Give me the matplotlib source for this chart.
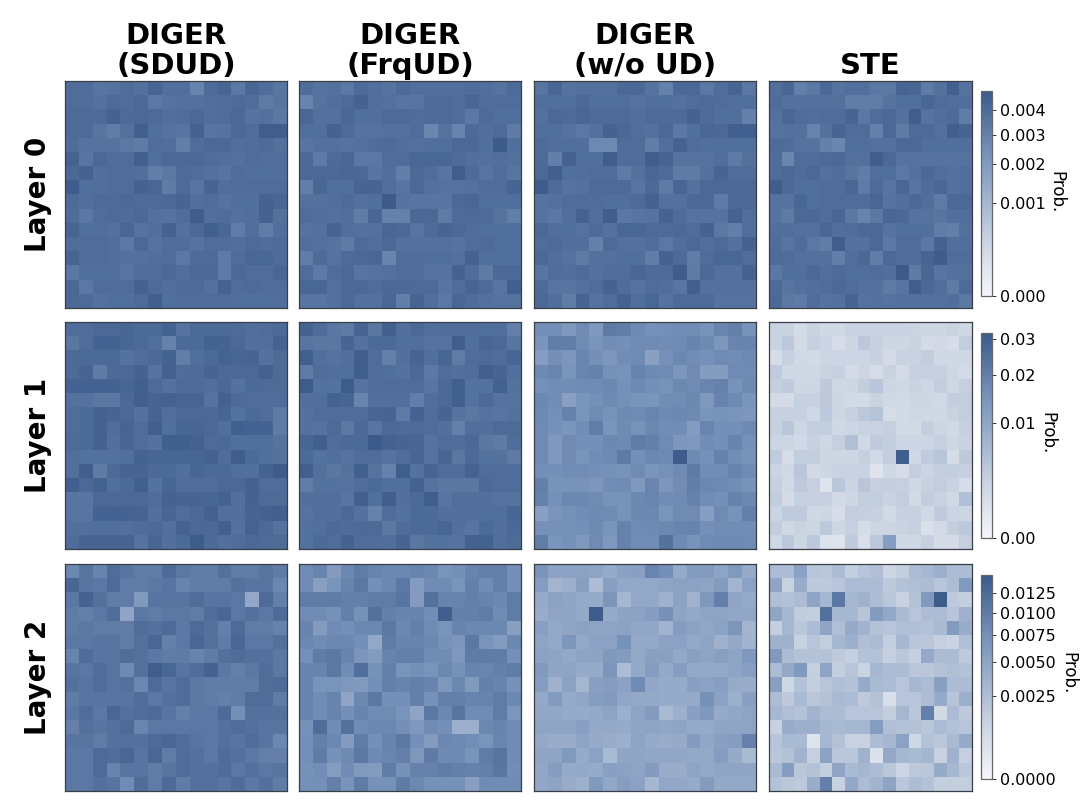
import numpy as np
import matplotlib
matplotlib.use('Agg')
import matplotlib.pyplot as plt
from matplotlib.colors import LinearSegmentedColormap, PowerNorm

# all probabilities below are in units of 1e-4
methods = ['DIGER\n(SDUD)', 'DIGER\n(FrqUD)', 'DIGER\n(w/o UD)', 'STE']
layers = ['Layer 0', 'Layer 1', 'Layer 2']
vmax_layers = [0.00486, 0.0318, 0.0151]
ticks_layers = [[0, 0.001, 0.002, 0.003, 0.004],
                [0, 0.01, 0.02, 0.03],
                [0, 0.0025, 0.005, 0.0075, 0.01, 0.0125]]
ticklabels_layers = [['0.000', '0.001', '0.002', '0.003', '0.004'],
                     ['0.00', '0.01', '0.02', '0.03'],
                     ['0.0000', '0.0025', '0.0050', '0.0075', '0.0100', '0.0125']]

l0_sdud = [
[39,39,35,36,39,37,43,38,38,29,40,43,34,42,39,35],
[39,39,37,40,39,41,34,36,37,37,38,39,40,39,33,35],
[40,40,40,44,40,41,40,38,39,41,38,39,41,36,37,34],
[40,40,35,32,37,45,38,36,35,44,35,36,41,39,46,46],
[39,36,36,36,34,33,39,38,31,39,41,41,38,39,40,37],
[44,35,41,39,39,45,38,41,41,41,39,38,37,39,38,38],
[41,44,38,39,39,38,31,34,40,39,37,35,39,38,38,38],
[47,38,38,39,39,44,42,33,40,35,43,38,39,39,39,39],
[40,38,40,40,41,40,40,41,43,38,39,36,38,38,44,42],
[39,34,39,40,39,41,37,36,39,46,38,39,37,38,44,37],
[43,38,38,37,42,36,38,44,37,41,45,42,32,38,32,38],
[39,39,39,38,34,41,36,39,39,36,39,39,38,40,39,40],
[43,39,39,38,37,37,38,39,34,40,40,33,39,42,42,39],
[34,38,38,38,35,39,39,41,38,41,41,33,41,39,39,42],
[41,34,39,39,39,44,40,38,40,40,37,44,39,40,39,39],
[41,40,37,38,38,40,45,38,39,39,39,39,38,38,38,38]]

l0_frqud = [
[39,36,37,34,40,38,36,40,38,38,38,38,39,38,36,40],
[29,36,38,40,44,38,37,35,35,40,40,39,42,39,39,39],
[42,37,37,42,38,38,40,40,39,40,40,39,34,40,38,38],
[38,38,44,40,36,36,37,37,39,28,36,29,40,38,40,33],
[35,37,37,36,37,39,40,38,37,38,38,41,41,38,48,38],
[41,33,40,42,34,34,39,39,42,42,42,40,38,37,38,37],
[41,41,41,42,41,35,38,31,41,39,35,46,40,35,39,35],
[31,42,38,38,43,43,38,35,41,37,36,36,37,39,39,43],
[37,37,38,40,37,38,48,36,35,35,35,41,42,38,38,38],
[39,38,37,38,32,42,30,30,41,41,33,40,40,40,36,31],
[36,37,43,38,37,37,42,41,35,40,43,41,39,38,38,38],
[38,37,36,33,40,38,41,37,37,37,37,36,39,40,38,38],
[32,40,36,40,41,42,29,39,39,38,38,37,44,38,38,38],
[39,33,39,41,35,36,37,39,39,36,36,44,39,33,41,41],
[42,42,37,41,41,39,41,41,40,40,35,39,43,40,35,45],
[35,35,37,41,37,37,42,31,43,38,34,42,39,37,36,36]]

l0_woud = [
[35,42,36,37,37,37,41,41,36,30,41,41,34,39,43,34],
[38,38,38,41,38,38,38,36,38,38,37,39,40,39,38,38],
[37,41,40,42,40,40,40,38,40,40,40,44,40,38,38,30],
[38,38,36,34,37,44,41,38,37,41,34,38,42,41,45,45],
[40,38,38,38,27,27,39,39,32,38,44,39,38,38,38,38],
[40,31,44,38,38,46,39,39,46,43,36,36,36,38,33,37],
[41,45,38,38,39,39,33,37,42,40,33,33,37,43,39,39],
[47,40,36,37,40,40,40,35,41,33,42,37,41,41,41,41],
[36,37,39,39,39,38,38,40,44,37,37,41,41,33,41,41],
[36,34,38,44,38,46,34,35,36,44,39,36,36,36,44,38],
[41,38,38,36,40,37,42,42,40,40,41,39,44,34,31,38],
[39,40,38,38,30,40,37,37,39,34,38,41,38,40,37,44],
[41,38,36,33,37,37,38,38,32,44,40,32,39,42,42,39],
[35,39,38,40,37,39,39,42,40,40,47,33,41,37,37,44],
[40,35,35,37,39,44,39,36,39,38,35,45,37,37,37,37],
[41,38,32,43,36,39,44,38,42,36,40,40,40,36,36,36]]

l0_ste = [
[38,42,31,34,41,36,38,38,34,34,43,42,33,37,45,36],
[39,37,37,37,37,37,32,32,32,36,38,38,42,39,38,38],
[37,42,39,38,39,39,43,34,39,41,37,46,36,38,40,32],
[36,37,37,29,37,43,39,39,30,41,33,40,40,37,45,43],
[40,39,36,36,30,28,38,38,37,37,41,41,38,38,38,38],
[39,28,39,39,40,41,37,37,46,41,36,36,36,36,36,36],
[39,41,39,41,37,39,35,32,38,38,34,37,41,38,37,38],
[46,41,38,38,39,39,42,33,40,35,42,35,39,42,37,38],
[36,36,42,38,39,39,39,39,42,36,38,41,38,33,41,41],
[36,33,41,41,39,42,34,29,34,42,41,36,36,35,38,38],
[38,38,37,37,42,38,39,41,41,36,38,38,38,32,31,37],
[39,35,39,34,32,46,37,37,41,34,39,39,34,44,38,38],
[40,39,37,37,37,31,38,41,32,41,39,39,43,47,39,39],
[34,38,38,41,38,40,38,38,39,38,48,33,42,35,37,37],
[40,35,37,38,39,41,39,37,37,33,35,46,41,38,33,40],
[41,34,33,39,36,37,43,36,37,36,37,37,37,37,38,34]]

l1_sdud = [
[255,255,270,270,275,265,265,285,235,265,265,265,260,250,255,265],
[225,255,285,285,275,265,250,195,265,265,290,285,270,245,250,285],
[265,265,265,265,240,255,265,285,205,250,265,285,275,280,240,260],
[260,280,215,265,270,285,235,290,255,260,280,265,270,270,290,260],
[285,285,285,285,275,295,260,240,260,260,250,270,240,265,260,260],
[240,240,225,225,270,295,280,290,280,280,235,290,260,255,255,255],
[255,265,285,280,270,240,280,250,270,270,270,275,240,265,255,215],
[255,265,285,255,280,255,295,250,275,275,270,250,295,285,285,215],
[260,265,290,245,275,255,240,300,300,290,260,265,250,250,250,235],
[250,240,240,240,250,285,275,275,275,275,285,255,305,265,250,240],
[245,300,215,265,280,280,265,265,250,275,265,265,250,250,285,310],
[295,270,290,250,265,295,240,275,255,255,255,270,270,285,255,255],
[230,230,270,265,270,270,255,285,280,280,275,285,245,285,260,260],
[230,230,285,285,285,280,245,275,255,270,290,245,245,280,285,295],
[245,245,250,250,245,255,265,245,285,270,270,295,240,285,265,240],
[255,280,280,280,280,235,275,245,265,310,265,245,255,270,260,260]]

l1_frqud = [
[285,255,225,215,280,225,295,245,270,250,255,255,255,250,250,200],
[230,225,225,280,240,265,265,250,250,235,235,305,250,275,270,230],
[295,250,235,245,300,255,200,245,280,250,275,210,255,260,255,275],
[215,255,250,250,300,255,250,240,270,220,255,245,255,295,280,250],
[310,240,240,310,235,255,255,255,255,230,265,295,240,240,290,240],
[245,250,285,275,185,245,245,250,205,250,265,295,240,265,235,235],
[240,255,255,255,255,275,280,215,285,255,280,235,225,235,230,240],
[240,235,260,220,265,230,265,260,260,255,245,200,250,245,260,260],
[275,300,255,265,265,315,285,280,275,235,255,255,270,225,215,255],
[265,240,250,235,255,255,235,255,275,235,275,225,265,240,240,215],
[295,245,225,240,295,235,195,305,240,280,255,255,285,255,255,255],
[210,240,240,235,255,265,250,250,285,235,225,225,225,265,255,255],
[245,245,245,230,295,250,300,245,265,305,230,250,245,245,235,235],
[235,250,245,270,240,195,255,240,265,265,245,245,245,250,250,275],
[240,250,265,255,265,260,220,255,265,265,275,245,230,265,250,270],
[240,265,255,285,255,255,250,280,225,240,240,235,290,290,250,260]]

l1_woud = [
[160,160,135,170,135,215,205,175,155,160,165,165,150,185,200,150],
[145,205,205,170,145,165,160,170,170,165,170,190,175,140,185,190],
[120,160,140,185,160,140,165,170,115,155,180,165,155,170,165,175],
[175,185,145,185,195,155,150,190,175,170,140,170,125,125,170,170],
[155,165,165,170,170,180,155,175,160,150,180,170,185,195,150,175],
[180,165,115,145,160,175,160,145,145,165,165,180,135,190,175,145],
[175,160,195,145,170,150,175,170,185,175,180,175,145,150,145,140],
[170,155,145,165,205,145,170,150,180,165,165,125,185,160,160,175],
[170,135,170,160,160,180,175,210,200,170,140,135,165,160,190,155],
[170,135,170,145,165,175,215,160,180,175,310,175,155,195,165,150],
[160,160,165,165,160,155,150,170,145,155,170,215,165,165,190,170],
[200,150,150,150,140,165,170,135,185,140,165,205,180,175,165,150],
[195,155,180,180,170,150,150,180,185,165,170,195,165,160,195,180],
[115,145,155,165,175,170,150,180,180,145,170,170,120,170,150,200],
[155,155,155,160,175,145,195,170,175,180,185,190,160,165,165,165],
[205,145,155,135,170,135,195,165,165,240,175,150,170,175,175,170]]

l1_ste = [
[24,24,14,25,18,17,24,24,24,24,24,23,20,20,25,18],
[24,36,15,28,22,12,20,37,26,20,20,24,14,15,12,31],
[12,27,18,15,21,21,21,21,26,14,24,24,30,17,17,18],
[32,18,19,19,24,26,14,21,13,24,14,26,26,26,20,14],
[28,32,20,20,34,19,20,30,41,20,18,24,20,31,19,28],
[14,14,27,26,34,20,15,15,24,18,15,20,20,16,30,30],
[26,26,26,17,36,20,26,37,44,13,15,19,17,17,24,30],
[26,38,20,30,30,17,21,24,24,28,15,15,29,20,16,28],
[21,21,16,26,19,28,48,18,33,29,21,21,21,28,20,24],
[32,13,30,30,20,20,20,28,16,30,300,18,32,42,13,34],
[22,18,41,15,20,24,24,24,7,18,13,30,22,30,30,26],
[26,16,34,26,7,38,22,40,28,29,28,18,26,30,24,12],
[30,14,27,28,26,15,20,30,30,24,30,15,30,24,18,48],
[22,33,33,17,20,12,30,28,26,15,26,26,17,32,22,20],
[30,17,24,20,36,20,26,13,21,21,24,26,9,15,30,36],
[18,36,20,36,8,7,32,9,36,120,18,18,26,14,14,28]]

l2_sdud = [
[85,110,90,120,110,100,100,125,105,100,100,115,100,100,110,100],
[130,110,105,125,100,100,105,110,90,100,100,100,115,110,110,85],
[105,135,115,100,100,62,110,110,110,120,110,110,105,45,125,95],
[100,95,105,120,48,105,100,105,105,100,120,130,105,115,105,125],
[100,105,100,100,100,120,115,125,105,125,115,95,125,100,100,92],
[105,105,110,110,100,115,130,95,105,130,115,100,130,105,105,115],
[90,120,110,110,120,115,105,100,100,90,100,115,120,115,115,105],
[110,105,120,110,82,115,145,130,110,120,135,105,95,105,120,105],
[115,110,120,110,115,85,125,110,120,105,100,100,100,100,120,125],
[100,110,110,110,110,120,105,115,120,105,100,95,100,120,120,100],
[105,120,105,130,115,120,125,110,95,105,105,125,75,115,115,115],
[95,115,110,115,125,88,105,105,105,105,105,115,120,115,110,110],
[110,110,100,115,115,115,125,130,120,110,105,115,110,120,110,85],
[105,105,125,120,130,110,130,100,120,115,105,120,115,105,95,95],
[105,105,125,90,110,110,100,110,120,115,115,120,105,115,105,110],
[105,105,115,110,80,120,100,125,100,115,115,110,120,105,115,100]]

l2_frqud = [
[80,90,60,85,100,90,85,85,90,85,70,75,90,95,95,75],
[80,55,70,90,105,75,85,105,60,80,80,70,95,80,95,75],
[100,100,100,95,95,100,100,110,60,115,90,90,95,90,85,100],
[80,80,72,95,72,115,95,90,90,78,145,95,95,100,80,100],
[90,60,80,75,85,85,105,85,95,80,70,90,85,85,85,55],
[85,80,85,85,75,45,100,90,90,85,72,68,105,70,60,85],
[75,100,105,90,68,60,90,95,95,80,80,65,100,100,100,75],
[90,90,105,80,118,72,95,70,75,70,85,72,90,88,95,100],
[90,70,70,65,62,75,95,90,95,90,65,85,62,95,90,72],
[90,80,90,48,85,105,75,75,95,72,95,95,90,90,100,85],
[90,80,90,75,90,80,80,70,50,105,85,110,80,80,100,68],
[72,120,80,115,80,85,85,75,65,80,75,38,38,85,90,80],
[75,95,85,60,100,75,90,105,75,60,85,82,78,70,88,80],
[75,100,72,82,105,82,88,95,65,102,82,82,70,100,110,80],
[72,78,58,80,62,60,100,72,92,92,100,95,92,95,108,78],
[75,75,95,70,100,72,72,100,85,72,72,72,55,80,80,80]]

l2_woud = [
[70,52,52,52,50,42,52,54,88,75,42,60,60,50,62,42],
[58,33,38,55,25,56,45,45,45,50,52,52,50,60,33,52],
[42,52,48,42,42,68,32,45,44,36,52,35,65,95,48,42],
[40,48,48,44,148,42,50,52,58,72,48,44,50,50,46,46],
[56,44,48,52,50,50,52,46,46,34,58,52,46,52,68,33],
[50,44,66,44,52,52,72,44,44,52,52,44,50,36,44,34],
[52,50,44,50,50,62,60,44,54,54,44,55,50,56,50,64],
[62,48,50,42,42,68,26,44,58,44,58,44,44,44,48,56],
[58,36,52,32,54,58,52,80,46,42,42,54,52,56,42,40],
[44,60,42,46,58,60,46,44,44,42,42,42,72,52,38,54],
[46,46,42,42,44,50,38,50,60,28,38,54,64,42,46,50],
[50,50,50,56,44,44,42,48,50,46,50,42,42,48,48,50],
[44,40,40,48,42,40,38,50,42,40,42,60,46,54,58,92],
[48,48,62,42,52,28,48,48,46,46,46,44,44,58,42,28],
[46,58,42,44,42,54,52,48,60,40,40,50,44,48,48,48],
[46,50,40,38,62,46,58,52,30,46,46,42,60,44,44,44]]

l2_ste = [
[26,26,52,20,18,26,14,20,24,10,14,26,30,38,26,26],
[48,12,40,16,16,20,26,26,26,16,22,24,26,20,26,62],
[24,22,26,48,30,105,30,36,26,18,12,22,62,148,16,14],
[48,30,15,14,115,30,30,20,60,44,28,20,26,26,20,36],
[13,30,18,26,48,24,42,34,22,20,24,24,22,28,60,40],
[36,36,12,20,14,30,38,24,26,14,30,20,18,13,11,24],
[62,26,22,22,22,16,13,22,22,13,18,13,44,26,26,16],
[26,44,62,13,50,14,20,11,30,26,26,18,18,22,24,22],
[55,9,22,14,20,24,22,42,28,26,20,30,26,54,26,26],
[26,16,28,18,22,28,26,16,22,5,20,20,26,42,20,38],
[30,24,22,34,26,26,20,20,20,14,32,18,95,8,26,16],
[12,40,38,38,30,28,30,32,58,24,22,22,18,26,22,20],
[20,28,28,3,32,22,12,12,26,30,52,9,22,18,28,42],
[18,22,34,13,52,18,18,36,4,44,30,28,32,12,36,13],
[28,58,18,22,14,48,28,32,26,18,10,16,18,42,30,18],
[22,18,16,40,95,12,44,26,34,50,18,26,22,14,14,14]]

panels = [[l0_sdud, l0_frqud, l0_woud, l0_ste],
          [l1_sdud, l1_frqud, l1_woud, l1_ste],
          [l2_sdud, l2_frqud, l2_woud, l2_ste]]

W, H = 1080, 810
cmap = LinearSegmentedColormap.from_list('prob', [
    (0, '#f5f6fa'), (0.26, '#ccd5e3'), (0.4, '#b0bfd6'),
    (0.57, '#8fa5c6'), (0.71, '#7490b8'), (1, '#3c5a8a')])


def px_axes(fig, x0, y0, x1, y1):
    # pixel box, y measured from the top of the picture
    return fig.add_axes([x0 / W, 1 - y1 / H, (x1 - x0) / W, (y1 - y0) / H])


col_x = [(65, 287), (299, 521), (534, 756), (769, 972)]
row_y = [(81, 308), (322, 549), (564, 791)]
cbar_y = [(91, 296), (333, 538), (575, 779)]
prob_xy = [(1056, 192), (1047, 433), (1068, 673)]

fig = plt.figure(figsize=(W / 100, H / 100), dpi=100)

for r in range(3):
    norm = PowerNorm(gamma=0.5, vmin=0, vmax=vmax_layers[r])
    for c in range(4):
        ax = px_axes(fig, col_x[c][0], row_y[r][0], col_x[c][1], row_y[r][1])
        im = ax.imshow(np.array(panels[r][c]) * 1e-4, cmap=cmap, norm=norm,
                       aspect='auto', interpolation='nearest')
        ax.set_xticks([])
        ax.set_yticks([])
        for s in ax.spines.values():
            s.set_color('#3a3f47')
            s.set_linewidth(0.9)
        if r == 0:
            ax.set_title(methods[c], fontsize=21, fontweight='bold', pad=5, linespacing=1.1)
        if c == 0:
            ax.set_ylabel(layers[r], fontsize=20, fontweight='bold', labelpad=9)

    cax = px_axes(fig, 981, cbar_y[r][0], 992, cbar_y[r][1])
    cb = fig.colorbar(im, cax=cax)
    cb.set_ticks(ticks_layers[r])
    cb.set_ticklabels(ticklabels_layers[r])
    cb.ax.minorticks_off()
    cb.ax.tick_params(labelsize=11.5, length=3, width=0.7, pad=3, color='#333333')
    cb.outline.set_edgecolor('#666666')
    cb.outline.set_linewidth(0.9)
    # label position differs per row, same as the tick label widths do
    fig.text(prob_xy[r][0] / W, 1 - prob_xy[r][1] / H, 'Prob.', rotation=270,
             fontsize=12, ha='center', va='center')

fig.savefig('out.png', dpi=100)
